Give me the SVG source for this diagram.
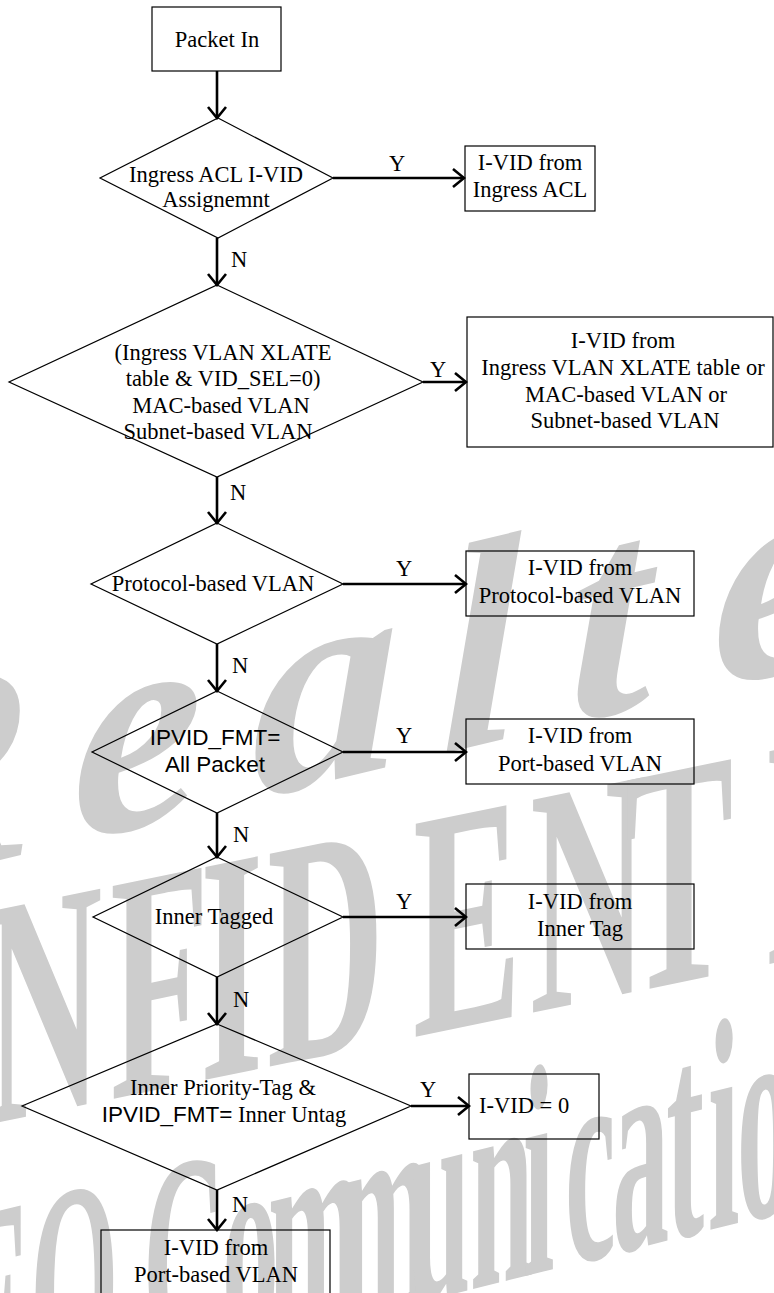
<svg xmlns="http://www.w3.org/2000/svg" width="774" height="1293" viewBox="0 0 774 1293">
  <defs>
    <style>
      .wm { fill: #cdcdcd; font-family: "Liberation Serif", "Times New Roman", serif; font-weight: bold; }
      .shape { fill: none; stroke: #000; stroke-width: 1.2; }
      .t { font-family: "Liberation Serif", "Times New Roman", serif; font-size: 22.5px; fill: #000; text-anchor: middle; }
      .ts { text-anchor: start; }
      .a { font-family: "Liberation Sans", Arial, sans-serif; }
      .conn { fill: none; stroke: #000; stroke-width: 2.6; marker-end: url(#arrow); }
      .lbl { font-family: "Liberation Serif", "Times New Roman", serif; font-size: 22.5px; fill: #000; }
    </style>
    <!-- open chevron arrowhead used by every connector -->
    <marker id="arrow" viewBox="-14 -12 16 24" refX="0" refY="0" markerWidth="16" markerHeight="24" markerUnits="userSpaceOnUse" orient="auto">
      <path d="M-11,-9 L0,0 L-11,9" fill="none" stroke="#000" stroke-width="2.6"/>
    </marker>
  </defs>

  <rect width="774" height="1293" fill="#fff"/>

  <!-- background watermark: skewed, glyphs placed one by one -->
  <g id="watermark">
    <text class="wm" font-style="italic" font-size="295" transform="translate(0,860) skewY(-13.5)"
          x="-163 72 252 440 568 712 860" y="0">Realtek</text>
    <text class="wm" font-size="325" transform="translate(0,1122) skewY(-11.6) scale(0.5,1)"
          x="-516 -282 -30 220 400 534 826 1060 1250 1528 1660 1900" y="0">CONFIDENTIAL</text>
    <text class="wm" font-size="300" transform="translate(0,1407) skewY(-14) scale(0.38,1)"
          x="-118 79 289 376 584 705 889 1071 1237 1376 1487 1611 1753 1863 1939 2026" y="0">EO Communication</text>
  </g>

  <!-- connectors -->
  <g id="connectors">
    <line class="conn" x1="217" y1="71" x2="217" y2="118"/>
    <line class="conn" x1="333" y1="178" x2="464" y2="178"/>
    <line class="conn" x1="217" y1="238" x2="217" y2="285"/>
    <line class="conn" x1="423" y1="382" x2="466" y2="382"/>
    <line class="conn" x1="217" y1="477" x2="217" y2="523"/>
    <line class="conn" x1="343" y1="584" x2="466" y2="584"/>
    <line class="conn" x1="217" y1="644" x2="217" y2="691"/>
    <line class="conn" x1="343" y1="752" x2="466" y2="752"/>
    <line class="conn" x1="217" y1="813" x2="217" y2="857"/>
    <line class="conn" x1="343" y1="917" x2="466" y2="917"/>
    <line class="conn" x1="217" y1="977" x2="217" y2="1024"/>
    <line class="conn" x1="411" y1="1106" x2="469" y2="1106"/>
    <line class="conn" x1="217" y1="1190" x2="217" y2="1230"/>
    <text class="lbl" x="389" y="171">Y</text>
    <text class="lbl" x="231" y="267">N</text>
    <text class="lbl" x="430" y="377">Y</text>
    <text class="lbl" x="230" y="500">N</text>
    <text class="lbl" x="232" y="673">N</text>
    <text class="lbl" x="396" y="576">Y</text>
    <text class="lbl" x="396" y="743">Y</text>
    <text class="lbl" x="233" y="842">N</text>
    <text class="lbl" x="396" y="909">Y</text>
    <text class="lbl" x="233" y="1007">N</text>
    <text class="lbl" x="420" y="1097">Y</text>
    <text class="lbl" x="232" y="1212">N</text>
  </g>

  <g id="packet-in">
    <rect class="shape" x="152" y="7" width="129" height="64"/>
    <text class="t" x="217" y="47">Packet In</text>
  </g>

  <g id="acl-check">
    <polygon class="shape" points="218,118 333,178 218,238 100,178"/>
    <text class="t" x="216" y="182">Ingress ACL I-VID</text>
    <text class="t" x="216" y="207">Assignemnt</text>
  </g>

  <g id="acl-vid">
    <rect class="shape" x="465" y="146" width="130" height="65"/>
    <text class="t" x="530" y="170">I-VID from</text>
    <text class="t" x="530" y="197">Ingress ACL</text>
  </g>

  <g id="xlate-check">
    <polygon class="shape" points="217,285 423,382 217,477 9,382"/>
    <text class="t" x="223" y="360">(Ingress VLAN XLATE</text>
    <text class="t" x="223" y="386">table &amp; VID_SEL=0)</text>
    <text class="t" x="221" y="413">MAC-based VLAN</text>
    <text class="t" x="218" y="439">Subnet-based VLAN</text>
  </g>

  <g id="xlate-vid">
    <rect class="shape" x="467" y="317" width="306" height="130"/>
    <text class="t" x="623" y="348">I-VID from</text>
    <text class="t" x="623" y="375">Ingress VLAN XLATE table or</text>
    <text class="t" x="626" y="402">MAC-based VLAN or</text>
    <text class="t" x="625" y="428">Subnet-based VLAN</text>
  </g>

  <g id="protocol-check">
    <polygon class="shape" points="217,523 343,584 217,644 91,584"/>
    <text class="t" x="213" y="591">Protocol-based VLAN</text>
  </g>

  <g id="protocol-vid">
    <rect class="shape" x="466" y="551" width="228" height="65"/>
    <text class="t" x="580" y="575">I-VID from</text>
    <text class="t" x="580" y="603">Protocol-based VLAN</text>
  </g>

  <g id="all-packet-check">
    <polygon class="shape" points="217,691 343,752 217,813 92,752"/>
    <text class="t a" x="215" y="745">IPVID_FMT=</text>
    <text class="t a" x="215" y="772">All Packet</text>
  </g>

  <g id="port-vid">
    <rect class="shape" x="466" y="719" width="228" height="65"/>
    <text class="t" x="580" y="743">I-VID from</text>
    <text class="t" x="580" y="771">Port-based VLAN</text>
  </g>

  <g id="inner-tag-check">
    <polygon class="shape" points="217,857 343,917 217,977 93,917"/>
    <text class="t" x="214" y="924">Inner Tagged</text>
  </g>

  <g id="inner-tag-vid">
    <rect class="shape" x="466" y="884" width="228" height="65"/>
    <text class="t" x="580" y="909">I-VID from</text>
    <text class="t" x="580" y="936">Inner Tag</text>
  </g>

  <g id="priority-tag-check">
    <polygon class="shape" points="217,1024 411,1106 217,1190 22,1106"/>
    <text class="t" x="223" y="1095">Inner Priority-Tag &amp;</text>
    <text class="t" x="224" y="1122"><tspan class="a">IPVID_FMT=</tspan> Inner Untag</text>
  </g>

  <g id="zero-vid">
    <rect class="shape" x="469" y="1074" width="130" height="65"/>
    <text class="t ts" x="479" y="1113">I-VID = 0</text>
  </g>

  <g id="port-vid-default">
    <rect class="shape" x="101" y="1230" width="229" height="75"/>
    <text class="t" x="216" y="1255">I-VID from</text>
    <text class="t" x="216" y="1282">Port-based VLAN</text>
  </g>
</svg>
